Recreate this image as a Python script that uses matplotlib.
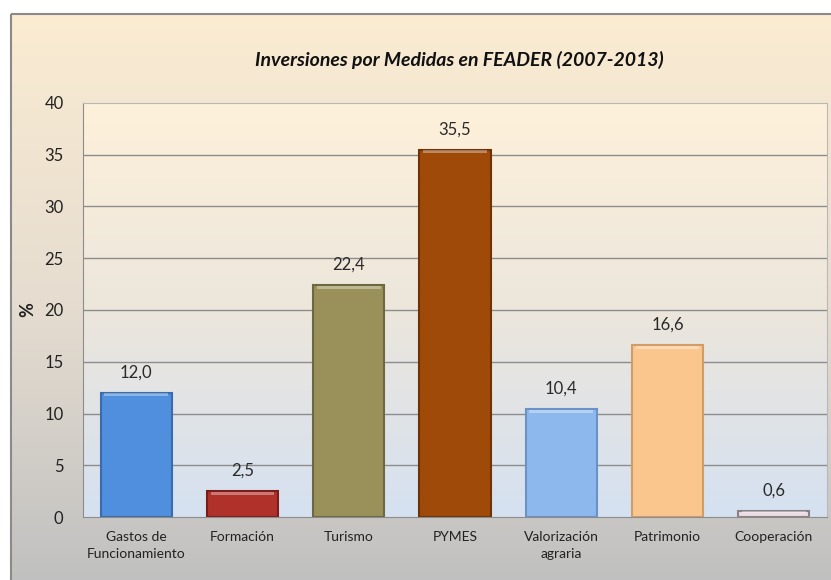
import numpy as np
import matplotlib.pyplot as plt
import matplotlib.colors as mcolors
from matplotlib.patches import Rectangle

# datos
categorias = ["Gastos de\nFuncionamiento", "Formación", "Turismo", "PYMES",
              "Valorización\nagraria", "Patrimonio", "Cooperación"]
valores = [12.0, 2.5, 22.4, 35.5, 10.4, 16.6, 0.6]
colores = ["#4f8fdd", "#b0302a", "#9a915a", "#a04a0a", "#8db8ee", "#fbc58e", "#ecdce4"]
bordes = ["#3a6cad", "#7a1c18", "#6e6840", "#6e3206", "#6a92c4", "#d09c68", "#8a8088"]
yticks = [0, 5, 10, 15, 20, 25, 30, 35, 40]

plt.rcParams['font.family'] = ['Lato', 'DejaVu Sans']

fig = plt.figure(figsize=(8.31, 5.80), dpi=100)
W, H = 831, 580

# fondo del grafico (degradado crema -> gris)
bg = fig.add_axes([0, 0, 1, 1], zorder=0)
bg.set_axis_off()
bg.set_xlim(0, W)
bg.set_ylim(H, 0)
cmap_bg = mcolors.LinearSegmentedColormap.from_list("bg", ["#fbecd2", "#e6ddd0", "#c0c0c0"])
grad = np.linspace(0, 1, 256).reshape(-1, 1)
bg.imshow(grad, cmap=cmap_bg, extent=[11, W + 5, H + 5, 14], aspect='auto')
bg.add_patch(Rectangle((11, 14), W, H, fill=False, edgecolor="#8a8a8a", lw=1.5))

# area de trazado
x0, x1, y0, y1 = 83, 827, 103, 517
ax = fig.add_axes([x0 / W, 1 - y1 / H, (x1 - x0) / W, (y1 - y0) / H], zorder=1)
cmap_ax = mcolors.LinearSegmentedColormap.from_list("ax", ["#fef1da", "#ece6dc", "#d5e1f1"])
ax.imshow(grad, cmap=cmap_ax, extent=[-0.5, len(valores) - 0.5, 0, 40], aspect='auto', zorder=0)

pos = np.arange(len(valores))
for y in yticks[1:-1]:
    ax.axhline(y, color="#8c8c8c", lw=1, zorder=1)
ax.bar(pos, valores, width=0.67, color=colores, edgecolor=bordes, linewidth=1.5, zorder=2)
# brillo superior de las barras
for p, v, c in zip(pos, valores, colores):
    ax.add_patch(Rectangle((p - 0.30, v - min(0.35, v * 0.4)), 0.60, min(0.3, v * 0.3),
                           color=mcolors.to_rgba("white", 0.35), lw=0, zorder=3))
for p, v in zip(pos, valores):
    ax.text(p, v + 1.2, f"{v:.1f}".replace(".", ","), ha="center", va="bottom",
            fontsize=12, color="#2a2a2a", zorder=4)

ax.set_xlim(-0.5, len(valores) - 0.5)
ax.set_ylim(0, 40)
ax.set_yticks(yticks)
ax.set_yticklabels([str(t) for t in yticks], fontsize=12, color="#222222")
ax.set_xticks(pos)
ax.set_xticklabels(categorias, fontsize=10, color="#222222", linespacing=1.5)
ax.tick_params(axis='both', length=0, pad=10)
ax.tick_params(axis='y', pad=14)
for s in ["top", "right"]:
    ax.spines[s].set_color("#b8b8b8")
for s in ["left", "bottom"]:
    ax.spines[s].set_color("#8c8c8c")
ax.set_ylabel("%", fontsize=13, fontweight="bold", rotation=90, labelpad=6, color="#222222")

fig.text(0.5 * (250 + 668) / W, 1 - 60 / H, "Inversiones por Medidas en FEADER (2007-2013)",
         ha="center", va="center", fontsize=14, fontweight="bold", style="italic", color="#111111")

fig.savefig("out.png", dpi=100)
